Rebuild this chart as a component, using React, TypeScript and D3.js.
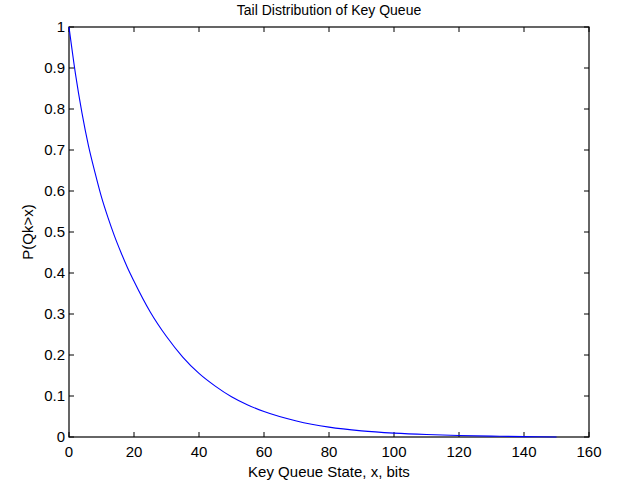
import React, { useEffect, useRef } from "react";
import * as d3 from "d3";

// queue state x (bits) and tail probability P(Qk > x)
const xBits = [0, 2, 4, 6, 8, 10, 12, 14, 16, 18, 20, 25, 30, 35, 40, 45, 50, 55, 60, 70, 80, 90, 100, 110, 120, 130, 140, 150];
const tailProb = [1, 0.885, 0.79, 0.71, 0.645, 0.585, 0.535, 0.49, 0.45, 0.413, 0.38, 0.305, 0.245, 0.195, 0.155, 0.124, 0.098, 0.078, 0.062, 0.039, 0.024, 0.015, 0.0095, 0.006, 0.0038, 0.0022, 0.001, 0];

const xTicks = [0, 20, 40, 60, 80, 100, 120, 140, 160];
const yTicks = [0, 0.1, 0.2, 0.3, 0.4, 0.5, 0.6, 0.7, 0.8, 0.9, 1];

const title = "Tail Distribution of Key Queue";
const xLabel = "Key Queue State, x, bits";
const yLabel = "P(Qk>x)";

const App = () => {
  const svgRef = useRef<SVGSVGElement>(null);

  useEffect(() => {
    const svg = d3.select(svgRef.current);
    svg.selectAll("*").remove();

    const width = 627;
    const height = 485;
    const margin = { top: 27, right: 38, bottom: 48, left: 69 };
    const font = "'Liberation Sans', Arial, sans-serif";

    const x = d3.scaleLinear().domain([0, 160]).range([margin.left, width - margin.right]);
    const y = d3.scaleLinear().domain([0, 1]).range([height - margin.bottom, margin.top]);

    svg.append("rect").attr("width", width).attr("height", height).attr("fill", "#fff");

    const tickLen = 5;
    // ticks on all four sides, pointing inward
    xTicks.forEach(t => {
      svg.append("line").attr("x1", x(t)).attr("x2", x(t)).attr("y1", y(0)).attr("y2", y(0) - tickLen).attr("stroke", "#000");
      svg.append("line").attr("x1", x(t)).attr("x2", x(t)).attr("y1", y(1)).attr("y2", y(1) + tickLen).attr("stroke", "#000");
      svg.append("text").attr("x", x(t)).attr("y", y(0) + 20).attr("text-anchor", "middle")
        .style("font-family", font).style("font-size", "15px").text(t);
    });
    yTicks.forEach(t => {
      svg.append("line").attr("x1", x(0)).attr("x2", x(0) + tickLen).attr("y1", y(t)).attr("y2", y(t)).attr("stroke", "#000");
      svg.append("line").attr("x1", x(160)).attr("x2", x(160) - tickLen).attr("y1", y(t)).attr("y2", y(t)).attr("stroke", "#000");
      svg.append("text").attr("x", x(0) - 4).attr("y", y(t) + 5).attr("text-anchor", "end")
        .style("font-family", font).style("font-size", "15px").text(d3.format("~g")(t));
    });

    svg.append("rect")
      .attr("x", x(0)).attr("y", y(1))
      .attr("width", x(160) - x(0)).attr("height", y(0) - y(1))
      .attr("fill", "none").attr("stroke", "#000").attr("stroke-width", 1.2);

    const line = d3.line<number>()
      .x((_, i) => x(xBits[i]))
      .y(d => y(d))
      .curve(d3.curveMonotoneX);

    svg.append("path")
      .datum(tailProb)
      .attr("d", line)
      .attr("fill", "none")
      .attr("stroke", "#0000ff")
      .attr("stroke-width", 1.1);

    svg.append("text").attr("x", (x(0) + x(160)) / 2).attr("y", 15).attr("text-anchor", "middle")
      .style("font-family", font).style("font-size", "14px").text(title);
    svg.append("text").attr("x", (x(0) + x(160)) / 2).attr("y", 477).attr("text-anchor", "middle")
      .style("font-family", font).style("font-size", "15px").text(xLabel);
    svg.append("text").attr("transform", `translate(33,${(y(0) + y(1)) / 2}) rotate(-90)`).attr("text-anchor", "middle")
      .style("font-family", font).style("font-size", "15px").text(yLabel);
  }, []);

  return (
    <div style={{ position: "absolute", left: 0, top: 0 }}>
      <svg ref={svgRef} width={627} height={485} style={{ display: "block" }}></svg>
    </div>
  );
};

export default App;
